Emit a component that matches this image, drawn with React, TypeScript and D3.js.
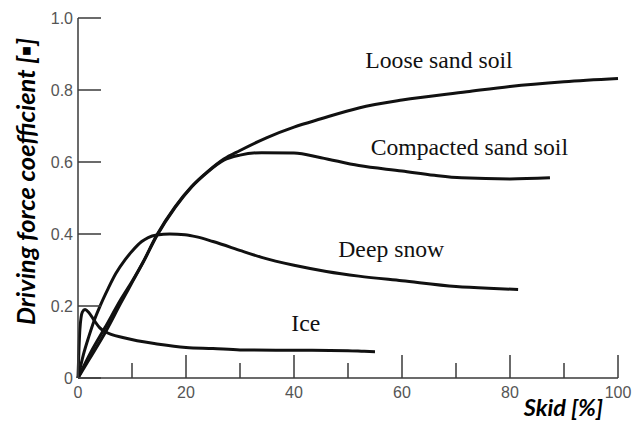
import * as d3 from "d3";

// values: [skid %, coefficient]
const looseSand: [number, number][] = [
  [0, 0], [2, 0.05], [5, 0.125], [8, 0.21], [10, 0.265], [12, 0.32],
  [14.6, 0.397], [18, 0.476], [21, 0.531], [24, 0.573], [27, 0.608],
  [30, 0.632], [35, 0.668], [40, 0.697], [45, 0.72], [52, 0.75],
  [60, 0.772], [72, 0.795], [80, 0.81], [90, 0.823], [100, 0.832],
];
const compactedSand: [number, number][] = [
  [0, 0], [2.5, 0.075], [5, 0.14], [8, 0.22], [10, 0.268], [12, 0.32],
  [14.6, 0.395], [18, 0.474], [21, 0.53], [24, 0.572], [27, 0.605],
  [30, 0.619], [34, 0.626], [40, 0.625], [45, 0.612], [52, 0.59],
  [60, 0.575], [66, 0.563], [71, 0.556], [80, 0.553], [87.4, 0.556],
];
const deepSnow: [number, number][] = [
  [0, 0], [1, 0.065], [2, 0.115], [3, 0.16], [4, 0.197], [5.6, 0.249],
  [7, 0.29], [8.7, 0.328], [10, 0.352], [11.8, 0.379], [13, 0.39],
  [14.6, 0.397], [17, 0.4], [19.8, 0.398], [22, 0.392], [25, 0.379],
  [30.3, 0.353], [34, 0.335], [40, 0.313], [46, 0.296], [52, 0.283],
  [60, 0.27], [70, 0.254], [76, 0.249], [81.5, 0.246],
];
const ice: [number, number][] = [
  [0, 0], [0.35, 0.135], [0.8, 0.183], [1.3, 0.19], [2, 0.182], [3, 0.16],
  [4, 0.14], [5, 0.129], [8.7, 0.111], [15, 0.094], [20, 0.085],
  [25, 0.082], [30, 0.078], [40, 0.077], [50, 0.076], [53, 0.074],
  [55, 0.073],
];

const seriesNames = ["Loose sand soil", "Compacted sand soil", "Deep snow", "Ice"];
const seriesData = [looseSand, compactedSand, deepSnow, ice];
// label anchor in data units (left x, baseline y)
const labelPos: [number, number][] = [
  [53.2, 0.86], [54.2, 0.62], [48.2, 0.337], [39.5, 0.131],
];

const xTickValues = [0, 20, 40, 60, 80, 100];
const xMinorValues = [10, 30, 50, 70, 90];
const yTickValues = [0, 0.2, 0.4, 0.6, 0.8, 1.0];
const yTickLabels = ["0", "0.2", "0.4", "0.6", "0.8", "1.0"];

export default function App() {
  const width = 634,
    height = 423;
  const left = 78,
    right = 618,
    top = 18,
    bottom = 378,
    majorTick = 23,
    minorTick = 15;

  const xScale = d3.scaleLinear().domain([0, 100]).range([left, right]);
  const yScale = d3.scaleLinear().domain([0, 1]).range([bottom, top]);

  const line = d3
    .line<[number, number]>()
    .x((d) => xScale(d[0]))
    .y((d) => yScale(d[1]))
    .curve(d3.curveMonotoneX);

  const axisColor = "#3a3a3a";
  const tickTextColor = "#555";

  return (
    <svg
      width={width}
      height={height}
      style={{ position: "absolute", left: 0, top: 0, background: "#fff" }}
    >
      {/* curves */}
      {seriesData.map((d, i) => (
        <path
          key={seriesNames[i]}
          d={line(d) || ""}
          fill="none"
          stroke="#111"
          strokeWidth={3}
          strokeLinejoin="round"
        />
      ))}

      {/* y axis */}
      <line x1={left} y1={top} x2={left} y2={bottom} stroke={axisColor} strokeWidth={1.5} />
      {yTickValues.map((v, i) => (
        <g key={v}>
          <line
            x1={left}
            y1={yScale(v)}
            x2={left + majorTick}
            y2={yScale(v)}
            stroke={axisColor}
            strokeWidth={1.5}
          />
          <text
            x={left - 5}
            y={yScale(v)}
            textAnchor="end"
            dominantBaseline="central"
            fontFamily="'Liberation Sans', Arial, sans-serif"
            fontSize={16}
            fill={tickTextColor}
          >
            {yTickLabels[i]}
          </text>
        </g>
      ))}

      {/* x axis */}
      <line x1={left} y1={bottom} x2={right} y2={bottom} stroke={axisColor} strokeWidth={1.5} />
      {xTickValues.map((v) => (
        <g key={v}>
          <line
            x1={xScale(v)}
            y1={bottom}
            x2={xScale(v)}
            y2={bottom - majorTick}
            stroke={axisColor}
            strokeWidth={1.5}
          />
          <text
            x={xScale(v)}
            y={398}
            textAnchor="middle"
            fontFamily="'Liberation Sans', Arial, sans-serif"
            fontSize={16}
            fill={tickTextColor}
          >
            {v}
          </text>
        </g>
      ))}
      {xMinorValues.map((v) => (
        <line
          key={v}
          x1={xScale(v)}
          y1={bottom}
          x2={xScale(v)}
          y2={bottom - minorTick}
          stroke={axisColor}
          strokeWidth={1.5}
        />
      ))}

      {/* curve labels */}
      {seriesNames.map((name, i) => (
        <text
          key={name}
          x={xScale(labelPos[i][0])}
          y={yScale(labelPos[i][1])}
          fontFamily="'Liberation Serif', 'Times New Roman', serif"
          fontSize={23.7}
          fill="#111"
        >
          {name}
        </text>
      ))}

      {/* axis titles */}
      <text
        transform={`translate(35 ${(30 + 333) / 2}) rotate(-90)`}
        textAnchor="middle"
        fontFamily="Lato, 'Open Sans', sans-serif"
        fontWeight="bold"
        fontStyle="italic"
        fontSize={25.5}
        fill="#000"
      >
        Driving force coefficient [▪]
      </text>
      <text
        x={603}
        y={416}
        textAnchor="end"
        fontFamily="Lato, 'Open Sans', sans-serif"
        fontWeight="bold"
        fontStyle="italic"
        fontSize={23.5}
        fill="#000"
      >
        Skid [%]
      </text>
    </svg>
  );
}
